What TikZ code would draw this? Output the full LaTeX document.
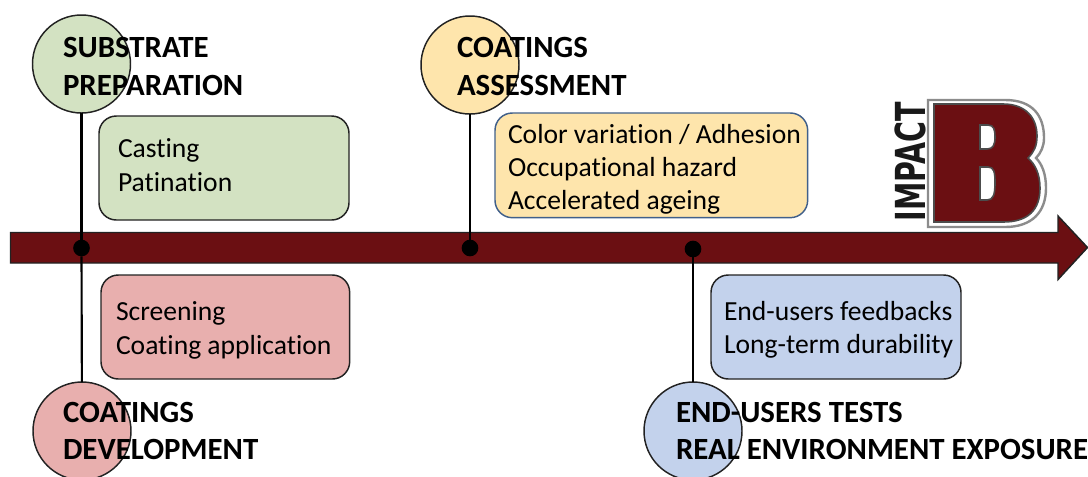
\documentclass[tikz,border=0pt]{standalone}
\usepackage{fontspec}
\setmainfont[Ligatures=NoCommon,Contextuals=NoAlternate]{Carlito}
\newfontfamily\logofont{DejaVu Sans}
\usetikzlibrary{calc}
\definecolor{barred}{HTML}{6B0F12}
\definecolor{gfill}{HTML}{D3E2C2}
\definecolor{ofill}{HTML}{FEE5AC}
\definecolor{pfill}{HTML}{E8AFAE}
\definecolor{bfill}{HTML}{C3D2EC}
\definecolor{bordblue}{HTML}{41608A}
\definecolor{bordk}{HTML}{222222}
\tikzset{
  every node/.style={inner sep=0pt,outer sep=0pt},
  stagecircle/.style={circle,draw=bordk,line width=1.1pt,minimum size=73.5pt},
  stagebox/.style={draw=bordk,line width=1.1pt,rounded corners=13pt,anchor=north west},
  conn/.style={line width=1.6pt,black},
  dotm/.style={circle,fill=black,minimum size=12.5pt},
  title/.style={anchor=north west,align=left,font=\fontsize{23.15pt}{28.3pt}\selectfont\bfseries,text=black},
  body/.style={anchor=north west,align=left,font=\fontsize{20.7pt}{24.8pt}\selectfont,text=black},
}
\begin{document}
\begin{tikzpicture}[x=0.75pt,y=-0.75pt]
\useasboundingbox (0,0) rectangle (1088,476);
\fill[white] (0,0) rectangle (1088,476);
% logo
\node[rotate=90,font=\logofont\fontsize{31pt}{31pt}\selectfont\bfseries,text=black!90,xscale=0.69] (logotext) at (910.5,161.5) {IMPACT};
\path[draw=gray!90,line width=1.8pt,fill=white] (928,100) -- (1005,100) .. controls (1033,100) and (1044,116) .. (1044,138) .. controls (1044,146) and (1041,153) .. (1036,158) .. controls (1042,164) and (1046,174) .. (1046,188) .. controls (1046,212) and (1032,227) .. (1005,227) -- (928,227) -- cycle;
\path[draw=black!70,line width=1.2pt,fill=barred,even odd rule] (934,104) -- (1003,104) .. controls (1026,104) and (1037,118) .. (1037,136) .. controls (1037,146) and (1034,152) .. (1028,158) .. controls (1035,164) and (1040,174) .. (1040,188) .. controls (1040,210) and (1028,222) .. (1003,222) -- (934,222) -- cycle
 (980,125) -- (988,125) .. controls (994,125) and (995,130) .. (995,137) .. controls (995,145) and (993,149) .. (987,149) -- (980,149) -- cycle
 (980,167) -- (988,167) .. controls (994,167) and (995,172) .. (995,183) .. controls (995,195) and (993,200) .. (987,200) -- (980,200) -- cycle;
% timeline arrow
\draw[fill=barred,draw=bordk,line width=1.1pt,line join=miter] (10.5,232.5) -- (1058,232.5) -- (1058,216) -- (1087.5,247.5) -- (1058,279.5) -- (1058,263) -- (10.5,263) -- cycle;
% circles and dots
\node[stagecircle,fill=gfill] (c1) at (81.5,64) {};
\node[stagecircle,fill=ofill] (c2) at (470,65) {};
\node[stagecircle,fill=pfill] (c3) at (82,431) {};
\node[stagecircle,fill=bfill] (c4) at (693,431) {};
\node[dotm] (d1) at (81.5,248) {};
\node[dotm] (d2) at (470,248) {};
\node[dotm] (d4) at (693,249) {};
\draw[conn] (c1) -- (d1);
\draw[conn] (d1) -- (c3);
\draw[conn] (c2) -- (d2);
\draw[conn] (d4) -- (c4);
% boxes
\node[stagebox,fill=gfill,minimum width=187.5pt,minimum height=78pt] (b1) at (99,116) {};
\node[stagebox,fill=ofill,draw=bordblue,minimum width=234.5pt,minimum height=78.5pt] (b2) at (495,113) {};
\node[stagebox,fill=pfill,minimum width=186.5pt,minimum height=78pt] (b3) at (101,275) {};
\node[stagebox,fill=bfill,minimum width=187.5pt,minimum height=78pt] (b4) at (711,275) {};
% box texts
\node[body] (t1) at (118,139) {Casting\\Patination};
\node[body] (t2) at (508,124) {Color variation / Adhesion\\Occupational hazard\\Accelerated ageing};
\node[body] (t3) at (116,302) {Screening\\Coating application};
\node[body] (t4) at (724,301) {End-users feedbacks\\Long-term durability};
% titles
\node[title] (h1) at (63,37.5) {SUBSTRATE\\PREPARATION};
\node[title] (h2) at (457,37.5) {COATINGS\\ASSESSMENT};
\node[title] (h3) at (63,402) {COATINGS\\DEVELOPMENT};
\node[title] (h4) at (676,402) {END-USERS TESTS\\REAL ENVIRONMENT EXPOSURE};
\end{tikzpicture}
\end{document}
